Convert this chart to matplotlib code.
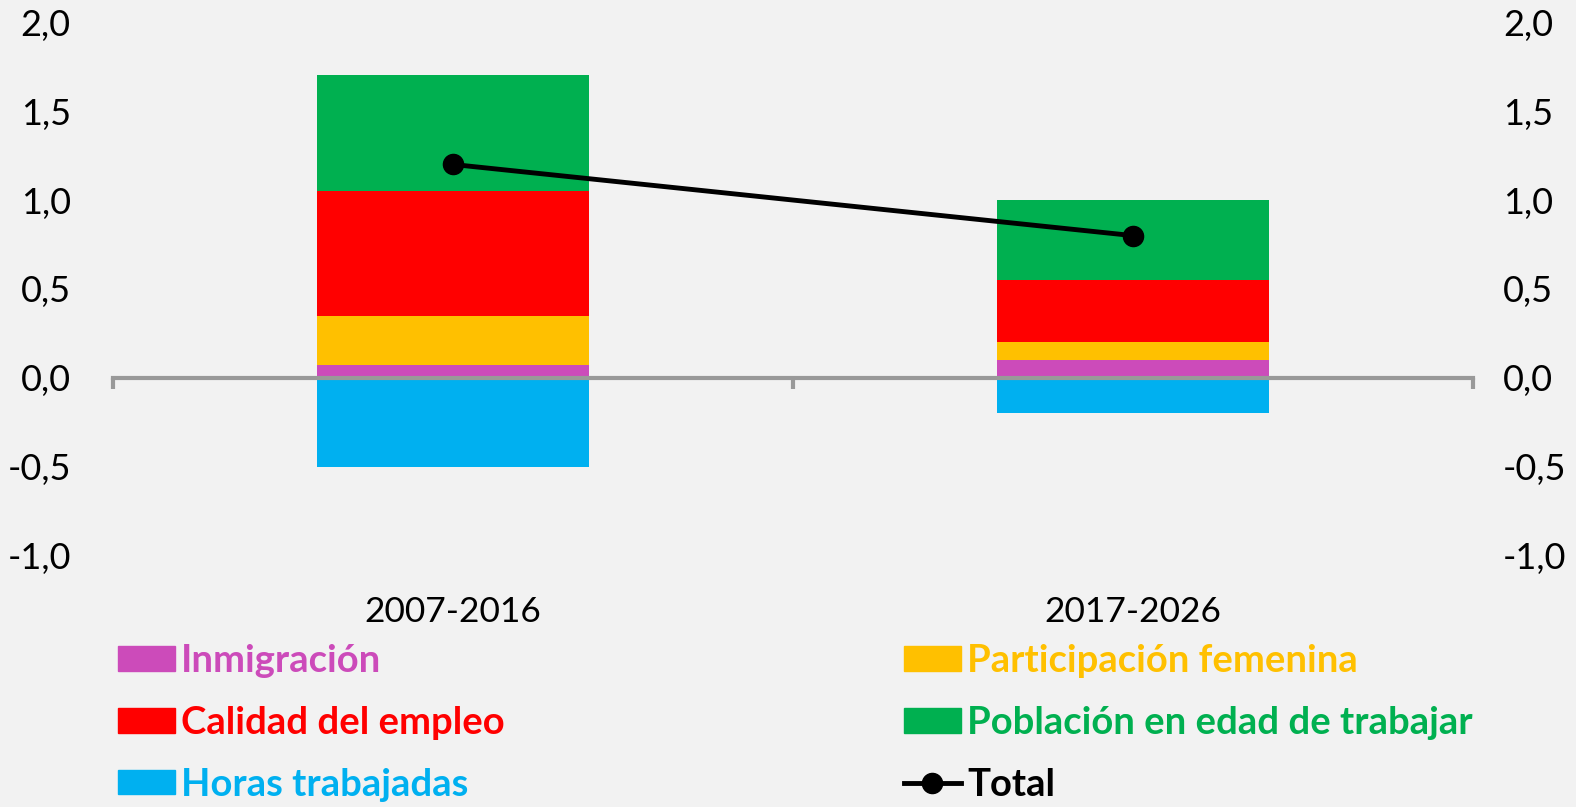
import matplotlib.pyplot as plt
from matplotlib.patches import Patch
from matplotlib.lines import Line2D
from matplotlib.transforms import blended_transform_factory

plt.rcParams["font.family"] = ["Lato", "DejaVu Sans"]

periods = ["2007-2016", "2017-2026"]
inmigracion = [0.07, 0.10]
participacion = [0.28, 0.10]
calidad = [0.70, 0.35]
poblacion = [0.65, 0.45]
horas = [-0.50, -0.20]
total = [1.20, 0.80]

y_ticks = [-1.0, -0.5, 0.0, 0.5, 1.0, 1.5, 2.0]
y_labels = ["-1,0", "-0,5", "0,0", "0,5", "1,0", "1,5", "2,0"]

bg = "#F2F2F2"
c_inm = "#CC4BBA"
c_part = "#FFC000"
c_cal = "#FF0000"
c_pob = "#00B050"
c_hor = "#00B0F0"
c_axis = "#999999"

fig = plt.figure(figsize=(15.76, 8.07), dpi=100, facecolor=bg)
ax = fig.add_axes([0.0714, 0.3113, 0.8630, 0.6613], facecolor=bg)

x = range(len(periods))
w = 0.4
bottom = [0.0, 0.0]
for vals, col in [(inmigracion, c_inm), (participacion, c_part),
                  (calidad, c_cal), (poblacion, c_pob)]:
    ax.bar(x, vals, w, bottom=bottom, color=col, zorder=2)
    bottom = [b + v for b, v in zip(bottom, vals)]
ax.bar(x, horas, w, color=c_hor, zorder=2)

ax.plot(x, total, color="black", lw=3.5, marker="o", markersize=14.5, zorder=4)

ax.set_xlim(-0.5, 1.5)
ax.set_ylim(-1.0, 2.0)

for s in ["top", "left", "right"]:
    ax.spines[s].set_visible(False)
ax.spines["bottom"].set_position(("data", 0))
ax.spines["bottom"].set_color(c_axis)
ax.spines["bottom"].set_linewidth(3)
ax.spines["bottom"].set_zorder(3)
ax.set_xticks([-0.5, 0.5, 1.5])
ax.set_xticklabels([])
ax.tick_params(axis="x", direction="out", length=8, width=3, color=c_axis)

ax.set_yticks(y_ticks)
ax.set_yticklabels(y_labels, fontsize=26)
ax.tick_params(axis="y", length=0, pad=30)

ax2 = ax.twinx()
ax2.set_ylim(-1.0, 2.0)
ax2.set_yticks(y_ticks)
ax2.set_yticklabels(y_labels, fontsize=26)
ax2.tick_params(axis="y", length=0, pad=22)
for s in ax2.spines.values():
    s.set_visible(False)

trans = blended_transform_factory(ax.transData, ax.transAxes)
for i, p in enumerate(periods):
    ax.text(i, -0.075, p, transform=trans, ha="center", va="top", fontsize=25.5)

left_items = [
    (Patch(color=c_inm), "Inmigración", c_inm),
    (Patch(color=c_cal), "Calidad del empleo", c_cal),
    (Patch(color=c_hor), "Horas trabajadas", c_hor),
]
right_items = [
    (Patch(color=c_part), "Participación femenina", c_part),
    (Patch(color=c_pob), "Población en edad de trabajar", c_pob),
    (Line2D([], [], color="black", lw=3.5, marker="o", markersize=14.5), "Total", "black"),
]

for items, xpos in [(left_items, 0.0749), (right_items, 0.5736)]:
    leg = fig.legend([h for h, _, _ in items], [t for _, t, _ in items],
                     loc="upper left", bbox_to_anchor=(xpos, 0.202),
                     frameon=False, prop={"size": 27.5, "weight": "bold"},
                     handlelength=1.49, handleheight=0.6, handletextpad=0.16,
                     labelspacing=0.73, borderpad=0, borderaxespad=0)
    for txt, (_, _, col) in zip(leg.get_texts(), items):
        txt.set_color(col)

fig.savefig("out.png", dpi=100, facecolor=bg)
